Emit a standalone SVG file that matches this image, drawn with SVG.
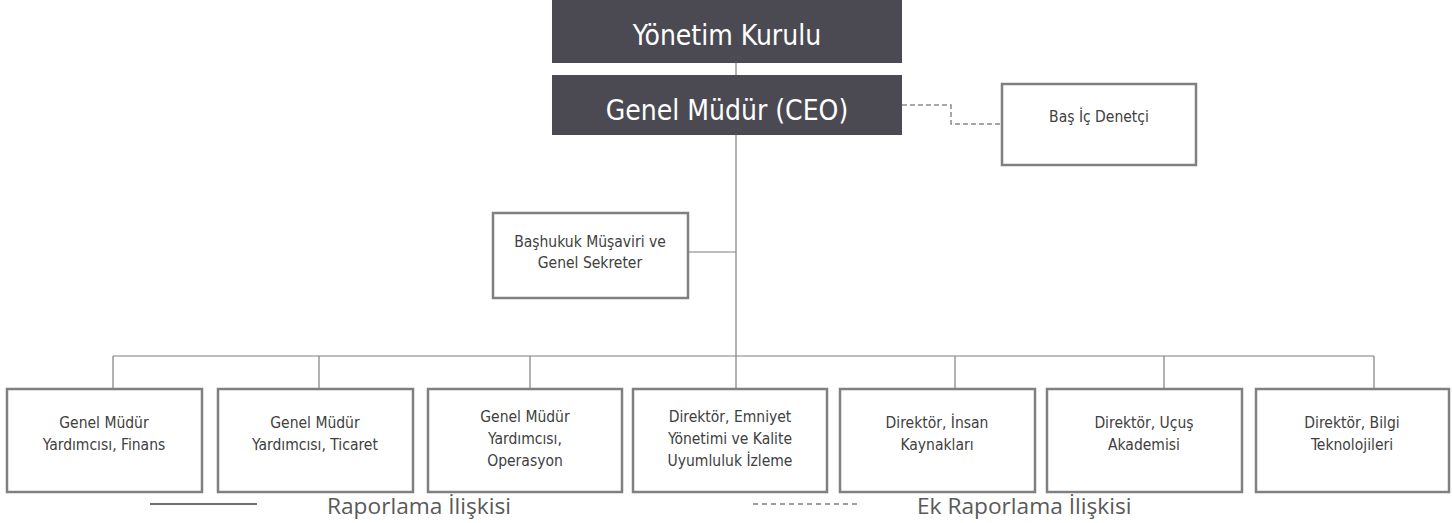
<svg xmlns="http://www.w3.org/2000/svg" width="1452" height="523" viewBox="0 0 1452 523">
<style>
.dark{fill:#4b4a52;stroke:none}
.box{fill:#ffffff;stroke:#808080;stroke-width:2.5}
.ttl{font-family:"DejaVu Sans Condensed","DejaVu Sans",sans-serif;font-size:28px;fill:#ffffff;text-anchor:middle}
.t{font-family:"DejaVu Sans Condensed","DejaVu Sans",sans-serif;font-size:15.5px;fill:#404040;text-anchor:middle}
.lg{font-family:"Open Sans","Liberation Sans",sans-serif;font-size:22.7px;fill:#595959}
.ln{fill:none;stroke:#7f7f7f;stroke-width:1.2}
.dash{fill:none;stroke:#8a8a8a;stroke-width:1.5;stroke-dasharray:5 3}
</style>
<g id="connectors">
<line class="ln" x1="736" y1="63" x2="736" y2="75"/>
<line class="ln" x1="736" y1="135" x2="736" y2="356"/>
<line class="ln" x1="688" y1="252" x2="736" y2="252"/>
<line class="ln" x1="113" y1="356" x2="1374" y2="356"/>
<line class="ln" x1="113" y1="356" x2="113" y2="388"/>
<line class="ln" x1="319" y1="356" x2="319" y2="388"/>
<line class="ln" x1="530" y1="356" x2="530" y2="388"/>
<line class="ln" x1="736" y1="356" x2="736" y2="388"/>
<line class="ln" x1="955" y1="356" x2="955" y2="388"/>
<line class="ln" x1="1164" y1="356" x2="1164" y2="388"/>
<line class="ln" x1="1374" y1="356" x2="1374" y2="388"/>
<path class="dash" d="M902 105 H951 V124 H1001"/>
</g>
<g id="yonetim-kurulu">
<rect class="dark" x="552" y="0" width="350" height="63"/>
<text class="ttl" x="727" y="45">Yönetim Kurulu</text>
</g>
<g id="ceo">
<rect class="dark" x="552" y="75" width="350" height="60"/>
<text class="ttl" x="727" y="120">Genel Müdür (CEO)</text>
</g>
<g id="bas-ic-denetci">
<rect class="box" x="1002" y="84" width="194" height="81"/>
<text class="t" x="1099" y="122">Baş İç Denetçi</text>
</g>
<g id="bashukuk">
<rect class="box" x="493" y="213" width="195" height="85"/>
<text class="t" x="590" y="247">Başhukuk Müşaviri ve</text>
<text class="t" x="590" y="268">Genel Sekreter</text>
</g>
<g id="gmy-finans">
<rect class="box" x="7" y="389" width="195" height="103"/>
<text class="t" x="104" y="428">Genel Müdür</text>
<text class="t" x="104" y="450">Yardımcısı, Finans</text>
</g>
<g id="gmy-ticaret">
<rect class="box" x="218" y="389" width="195" height="103"/>
<text class="t" x="315" y="428">Genel Müdür</text>
<text class="t" x="315" y="450">Yardımcısı, Ticaret</text>
</g>
<g id="gmy-operasyon">
<rect class="box" x="428" y="389" width="194" height="103"/>
<text class="t" x="525" y="422">Genel Müdür</text>
<text class="t" x="525" y="444">Yardımcısı,</text>
<text class="t" x="525" y="466">Operasyon</text>
</g>
<g id="dir-emniyet">
<rect class="box" x="633" y="389" width="194" height="103"/>
<text class="t" x="730" y="422">Direktör, Emniyet</text>
<text class="t" x="730" y="444">Yönetimi ve Kalite</text>
<text class="t" x="730" y="466">Uyumluluk İzleme</text>
</g>
<g id="dir-ik">
<rect class="box" x="840" y="389" width="195" height="103"/>
<text class="t" x="937" y="428">Direktör, İnsan</text>
<text class="t" x="937" y="450">Kaynakları</text>
</g>
<g id="dir-ucus">
<rect class="box" x="1047" y="389" width="195" height="103"/>
<text class="t" x="1144" y="428">Direktör, Uçuş</text>
<text class="t" x="1144" y="450">Akademisi</text>
</g>
<g id="dir-bt">
<rect class="box" x="1256" y="389" width="193" height="103"/>
<text class="t" x="1352" y="428">Direktör, Bilgi</text>
<text class="t" x="1352" y="450">Teknolojileri</text>
</g>
<g id="legend">
<line x1="150" y1="504" x2="257" y2="504" stroke="#404040" stroke-width="1.5"/>
<text class="lg" x="327" y="514">Raporlama İlişkisi</text>
<line x1="753" y1="504" x2="860" y2="504" stroke="#404040" stroke-width="1.2" stroke-dasharray="5 4"/>
<text class="lg" x="917" y="514">Ek Raporlama İlişkisi</text>
</g>
</svg>
